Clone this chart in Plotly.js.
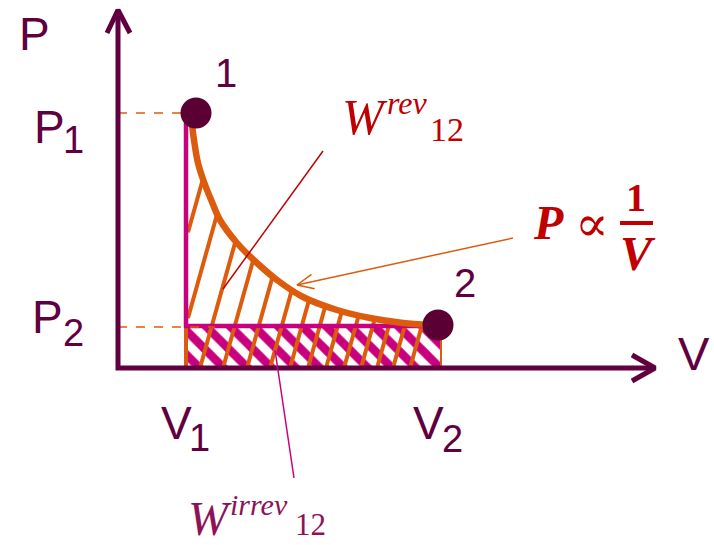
<!DOCTYPE html>
<html><head><meta charset="utf-8">
<script src="https://cdn.plot.ly/plotly-3.0.1.min.js"></script>
<style>html,body{margin:0;padding:0;background:#fff}</style>
</head><body><div id="chart" style="width:714px;height:545px"></div>
<script>
// Diagram units: V grows to the right, P grows upward, origin at the axes corner
const V1 = 68, V2 = 323;          // volumes of states 1 and 2
const P1 = 255, P2 = 42;          // pressures of states 1 and 2
const stateLabels = ['1', '2'];
const stateV = [78, 320];
const stateP = [255, 43];
// reversible isotherm  P ∝ 1/V
const curveV = [73, 74, 76, 80, 86, 94, 102, 119, 139, 159, 185, 219, 252, 285, 312];
const curveP = [250, 243, 228, 205, 186, 166, 148, 125, 105, 88, 71, 58, 50, 45, 43];
// irreversible path: constant volume drop then constant pressure expansion
const irrevV = [V1, V1, V2 - 3];
const irrevP = [P1 - 10, P2, P2];
// where the orange hatching lines meet the V axis
const hatchBaseV = [32, 56, 82, 105, 129, 152, 172, 190, 208, 226, 243, 259, 275, 292];

const AX = '#600040', ORANGE = '#dd5b0c', PINK = '#c8007e', RED = '#c00000', MAG = '#8e1257', DOT = '#5a0032';

// right boundary of the area under the reversible curve, at height y
function rightX(y) {
  if (y <= P2) return V2;
  if (y <= curveP[curveP.length - 1]) return curveV[curveV.length - 1];
  for (let i = curveP.length - 1; i > 0; i--) {
    const pa = curveP[i], pb = curveP[i - 1];
    if (y >= pa && y <= pb) {
      const t = (y - pa) / (pb - pa);
      return curveV[i] + t * (curveV[i - 1] - curveV[i]);
    }
  }
  return curveV[0];
}
const slope = 0.28;
const hx = [], hy = [];
hatchBaseV.forEach(b => {
  let y0 = 2;
  if (b + slope * y0 < V1 + 2) y0 = (V1 + 2 - b) / slope;
  let y = y0;
  while (y < 260 && b + slope * y < rightX(y) - 1) y += 0.25;
  hx.push(b + slope * y0, b + slope * y, null);
  hy.push(y0, y, null);
});

// chevron arrowhead helper
function chevron(tipX, tipY, fromX, fromY, len, ang) {
  const dx = fromX - tipX, dy = fromY - tipY, L = Math.hypot(dx, dy);
  const ux = dx / L, uy = dy / L, a = ang * Math.PI / 180;
  const r = (c, s) => [tipX + len * (ux * c - uy * s), tipY + len * (ux * s + uy * c)];
  const w1 = r(Math.cos(a), Math.sin(a)), w2 = r(Math.cos(a), -Math.sin(a));
  return {x: [w1[0], tipX, w2[0]], y: [w1[1], tipY, w2[1]]};
}
const arrTip = [179, 83], arrFrom = [395, 130];
const ch = chevron(arrTip[0], arrTip[1], arrFrom[0], arrFrom[1], 18, 24);

const line = (x, y, color, width, dash, shape) => ({type: 'scatter', mode: 'lines', x, y,
  line: {color, width, dash: dash || 'solid', shape: shape || 'linear'}, hoverinfo: 'skip'});

const traces = [
  // pink hatched rectangle (irreversible work)
  {type: 'scatter', mode: 'none', x: [V1, V2, V2, V1, V1], y: [2, 2, P2 - 2, P2 - 2, 2],
   fill: 'toself', fillcolor: 'white',
   fillpattern: {shape: '\\', fgcolor: PINK, bgcolor: '#ffffff', size: 17, solidity: 0.5}, hoverinfo: 'skip'},
  // orange hatching (reversible work)
  line(hx, hy, ORANGE, 4),
  line([V1, V1], [0, P2], ORANGE, 4),
  line([V2, V2], [0, P2], ORANGE, 2),
  // irreversible path
  line(irrevV, irrevP, PINK, 4.5),
  // dashed guides
  line([0, stateV[0]], [P1, P1], ORANGE, 1.5, 'dash'),
  line([0, 97], [P2 - 1, P2 - 1], ORANGE, 1.5, 'dash'),
  // reversible curve
  line(curveV, curveP, ORANGE, 6.5, 'solid', 'spline'),
  // axes with arrow heads
  line([0, 0, 537], [358, 0, 0], AX, 5),
  line([-11, 0, 12], [335, 358, 335], AX, 5),
  line([514, 537, 514], [13, 0, -13], AX, 5),
  // leader lines
  line([205, 105], [217, 79], RED, 1.5),
  line([arrFrom[0], arrTip[0]], [arrFrom[1], arrTip[1]], ORANGE, 1.5),
  line(ch.x, ch.y, ORANGE, 1.5),
  line([157, 176], [18, -110], PINK, 1.5),
  // fraction bar of 1/V
  line([502, 535], [145, 145], RED, 4),
  // states
  {type: 'scatter', mode: 'markers', x: stateV, y: stateP, marker: {size: 31, color: DOT}, hoverinfo: 'skip'}
];

const SANS = 'Liberation Sans, Arial, sans-serif', SERIF = 'Liberation Serif, Times New Roman, serif';
const ann = (x, y, text, size, color, family, extra) => Object.assign({x, y, xref: 'x', yref: 'y', text,
  showarrow: false, xanchor: 'center', yanchor: 'middle', font: {size, color, family}}, extra || {});
const annotations = [
  ann(-84, 334, 'P', 46, AX, SANS),
  ann(-69, P1 - 14, 'P', 46, AX, SANS), ann(-45, P1 - 27, '1', 38, AX, SANS),
  ann(-71, P2 + 9, 'P', 46, AX, SANS), ann(-45, P2 - 7, '2', 38, AX, SANS),
  ann(stateV[0] + 30, stateP[0] + 40, stateLabels[0], 40, AX, SANS),
  ann(stateV[1] + 27, stateP[1] + 42, stateLabels[1], 40, AX, SANS),
  ann(576, 15, 'V', 47, AX, SANS),
  ann(V1 - 10, -55, 'V', 46, AX, SANS), ann(V1 + 13, -70, '1', 38, AX, SANS),
  ann(V2 - 13, -55, 'V', 46, AX, SANS), ann(V2 + 11, -71, '2', 38, AX, SANS),
  // W rev
  ann(247, 251, '<i>W</i>', 50, RED, SERIF), ann(289, 265, '<i>rev</i>', 32, RED, SERIF),
  ann(329, 239, '12', 34, RED, SERIF),
  // P ∝ 1/V
  ann(430, 146, '<b><i>P</i></b>', 48, RED, SERIF), ann(474, 144, '∝', 50, RED, 'DejaVu Serif, serif'),
  ann(518, 171, '<b>1</b>', 40, RED, SERIF), ann(520, 115, '<b><i>V</i></b>', 48, RED, SERIF),
  // W irrev
  ann(92, -150, '<i>W</i>', 48, MAG, SERIF), ann(141, -136, '<i>irrev</i>', 30, MAG, SERIF),
  ann(192, -156, '12', 31, MAG, SERIF)
];

const layout = {
  width: 714, height: 545, margin: {l: 0, r: 0, t: 0, b: 0},
  paper_bgcolor: '#ffffff', plot_bgcolor: '#ffffff', showlegend: false,
  xaxis: {range: [-118, 596], visible: false, fixedrange: true},
  yaxis: {range: [-177, 368], visible: false, fixedrange: true},
  annotations
};
Plotly.newPlot('chart', traces, layout, {displayModeBar: false, staticPlot: true});
</script></body></html>
